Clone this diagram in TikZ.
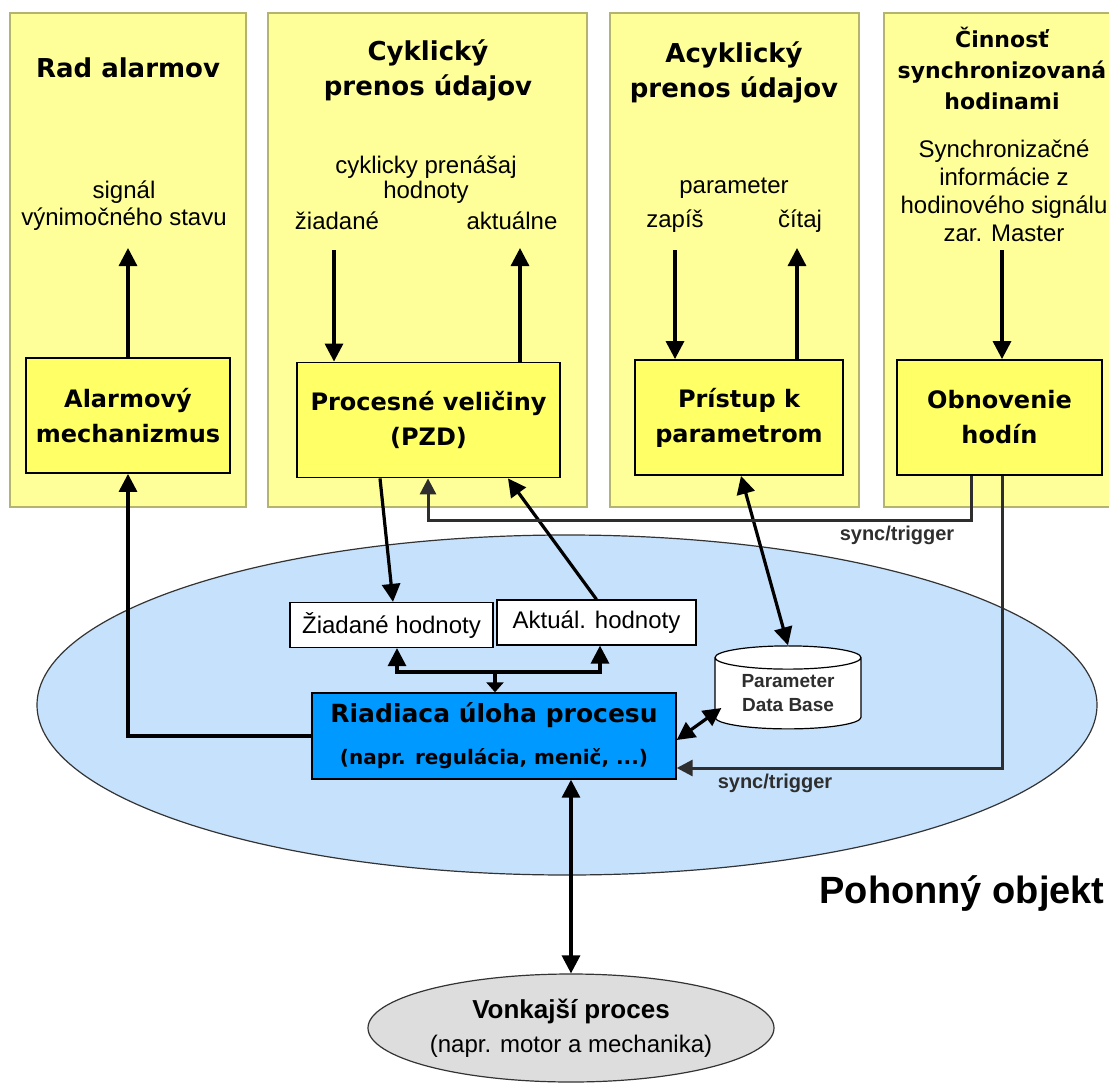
\documentclass[tikz,border=0pt]{standalone}
\usepackage{fontspec}
\setmainfont{Liberation Sans}
\newfontfamily\dvsans{DejaVu Sans}
\usetikzlibrary{arrows.meta,shapes.geometric}

\definecolor{panelfill}{HTML}{FFFF99}
\definecolor{panelline}{HTML}{B4B46E}
\definecolor{boxfill}{HTML}{FFFF66}
\definecolor{drivefill}{HTML}{C6E1FB}
\definecolor{taskfill}{HTML}{0099FF}
\definecolor{procfill}{HTML}{DDDDDD}
\definecolor{syncgray}{HTML}{2E2E2E}

\tikzset{
  panel/.style={draw=panelline, fill=panelfill, line width=1.4pt, inner sep=0,
    minimum width=#1, minimum height=494},
  unit/.style={draw, fill=boxfill, line width=1.8pt, inner sep=0, align=center,
    minimum height=115, font={\dvsans\bfseries\fontsize{24}{35}\selectfont}},
  value/.style={draw, fill=white, line width=1.2pt, inner sep=0, minimum height=45,
    font={\fontsize{24}{28}\selectfont}},
  title/.style={align=center, font={\dvsans\bfseries\fontsize{26}{35}\selectfont}},
  note/.style={align=center, font={\fontsize{24}{27}\selectfont}},
  synclabel/.style={text=syncgray, font={\bfseries\fontsize{20}{24}\selectfont}},
  arr/.style={line width=3.2pt, -{Triangle[length=18pt,width=18pt]}},
  darr/.style={line width=3.2pt, {Triangle[length=18pt,width=18pt]}-{Triangle[length=18pt,width=18pt]}},
  sarr/.style={line width=3pt, draw=syncgray, -{Triangle[length=16pt,width=16pt]}}
}

\begin{document}
\begin{tikzpicture}[x=1pt, y=-1pt]
  \useasboundingbox (0,0) rectangle (1109,1084);

  % background panels
  \node[panel=236] (p1) at (128,260) {};
  \node[panel=319] (p2) at (427.5,260) {};
  \node[panel=249] (p3) at (734.5,260) {};
  \node[panel=232] (p4) at (1000,260) {};

  \node[title] (t1) at (128,68) {Rad alarmov};
  \node[title] (t2) at (428,70) {Cyklický\\prenos údajov};
  \node[title] (t3) at (734,72) {Acyklický\\prenos údajov};
  \node[title, font={\dvsans\bfseries\fontsize{22}{31}\selectfont}] (t4) at (1002,68)
    {Činnosť\\synchronizovaná\\hodinami};

  \node[note] (n1) at (124,206) {signál\\výnimočného stavu};
  \node[note, font={\fontsize{24}{25}\selectfont}] (n2) at (426,180) {cyklicky prenášaj\\hodnoty};
  \node[note] (n2a) at (337,221) {žiadané};
  \node[note] (n2b) at (512,221) {aktuálne};
  \node[note] (n3) at (734,188) {parameter};
  \node[note] (n3a) at (675,221) {zapíš};
  \node[note] (n3b) at (800,221) {čítaj};
  \node[note, font={\fontsize{24}{28}\selectfont}] (n4) at (1004,191)
    {Synchronizačné\\informácie z\\hodinového signálu\\zar. Master};

  % drive object
  \node[ellipse, draw=black!80, fill=drivefill, line width=1.2pt, inner sep=0,
    minimum width=1060, minimum height=340] (drive) at (567,705) {};
  \node[font={\bfseries\fontsize{38}{42}\selectfont}] (drivelbl) at (962,893) {Pohonný objekt};

  \node[unit, minimum width=204] (alarm) at (128,415.5) {Alarmový\\mechanizmus};
  \node[unit, minimum width=263] (pzd) at (428.5,420) {Procesné veličiny\\(PZD)};
  \node[unit, minimum width=208] (pristup) at (739,417.5) {Prístup k\\parametrom};
  \node[unit, minimum width=205] (obnov) at (999.5,417.5) {Obnovenie\\hodín};

  \node[value, minimum width=203] (ziad) at (391.5,625) {Žiadané hodnoty};
  \node[value, minimum width=199] (akt) at (596.5,622.5) {Aktuál. hodnoty};

  \node[draw, fill=taskfill, line width=1.4pt, inner sep=0, align=center,
    minimum width=364, minimum height=86,
    font={\dvsans\bfseries\fontsize{20}{42}\selectfont}] (task) at (494,736)
    {{\fontsize{25}{42}\selectfont Riadiaca úloha procesu}\\(napr. regulácia, menič, ...)};

  \node[cylinder, shape border rotate=90, aspect=0.25, draw, fill=white,
    line width=1.2pt, inner sep=0, minimum width=146, minimum height=83, align=center,
    text=syncgray, font={\bfseries\fontsize{19}{24}\selectfont}] (db) at (788,693.5)
    {Parameter\\Data Base};

  \node[ellipse, draw=black!80, fill=procfill, line width=1.2pt, inner sep=0,
    minimum width=406, minimum height=108, align=center,
    font={\fontsize{24}{34}\selectfont}] (proc) at (571,1028)
    {{\bfseries\fontsize{26}{34}\selectfont Vonkajší proces}\\(napr. motor a mechanika)};

  % free ends in the panels
  \coordinate (sigTop) at (128,248);
  \coordinate (setIn) at (334,250);
  \coordinate (actOut) at (520,248);
  \coordinate (wrIn) at (675,250);
  \coordinate (rdOut) at (797,248);
  \coordinate (clkIn) at (1002,250);

  \draw[arr] (alarm.north) -- (sigTop);
  \draw[arr] (setIn) -- (setIn |- pzd.north);
  \draw[arr] (actOut |- pzd.north) -- (actOut);
  \draw[arr] (wrIn) -- (wrIn |- pristup.north);
  \draw[arr] (rdOut |- pristup.north) -- (rdOut);
  \draw[arr] (clkIn) -- (clkIn |- obnov.north);

  \draw[arr] (task.west) -| (alarm.south);
  \draw[arr] ([xshift=-48.5pt]pzd.south) -- ([xshift=1.5pt]ziad.north);
  \draw[arr] (akt.north) -- ([xshift=79.5pt]pzd.south);
  \draw[darr] ([xshift=2pt]pristup.south) -- (db.north);
  \draw[darr] ([yshift=-4pt]task.east) -- ([xshift=7pt,yshift=-14.5pt]db.west);
  \draw[darr] (task.south -| proc.north) -- (proc.north);

  \coordinate (jn) at (495,672);
  \draw[line width=3.2pt, -{Triangle[length=10pt,width=17pt]}] (jn) -- (jn |- task.north);
  \draw[arr] (jn) -| ([xshift=5.5pt]ziad.south);
  \draw[arr] (jn) -| ([xshift=3.5pt]akt.south);

  % sync/trigger
  \coordinate (syncA) at (428,520);
  \coordinate (syncB) at (1002,768);
  \draw[sarr] ([xshift=-28.5pt]obnov.south) |- (syncA) -- (syncA |- pzd.south);
  \draw[sarr] (syncB |- obnov.south) -- (syncB) -- (syncB -| task.east);
  \node[synclabel] (s1) at (897,535) {sync/trigger};
  \node[synclabel] (s2) at (775,783) {sync/trigger};
\end{tikzpicture}
\end{document}
